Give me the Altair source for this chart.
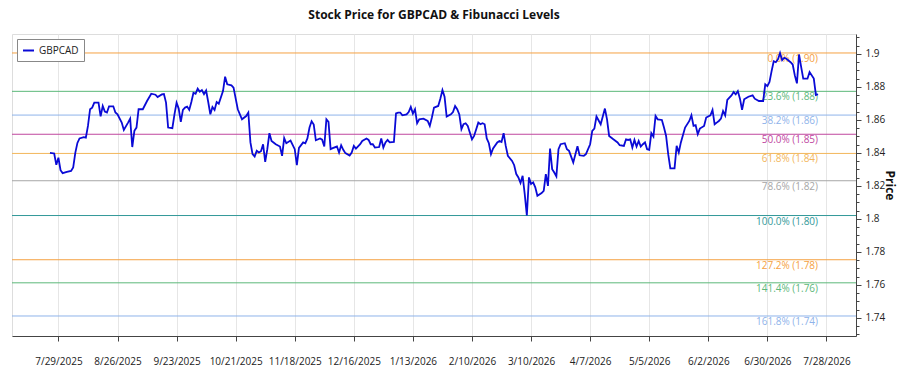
import altair as alt
import pandas as pd

FONT = "Open Sans"

dates = [
    "2025-07-25", "2025-07-27", "2025-07-28", "2025-07-29", "2025-07-30", "2025-07-31",
    "2025-08-02", "2025-08-04", "2025-08-05", "2025-08-06", "2025-08-07", "2025-08-08",
    "2025-08-10", "2025-08-11", "2025-08-12", "2025-08-13", "2025-08-14", "2025-08-15",
    "2025-08-17", "2025-08-18", "2025-08-19", "2025-08-20", "2025-08-21", "2025-08-22",
    "2025-08-24", "2025-08-25", "2025-08-26", "2025-08-28", "2025-08-29", "2025-08-31",
    "2025-09-01", "2025-09-02", "2025-09-03", "2025-09-04", "2025-09-05", "2025-09-07",
    "2025-09-09", "2025-09-11", "2025-09-13", "2025-09-14", "2025-09-16", "2025-09-17",
    "2025-09-18", "2025-09-19", "2025-09-21", "2025-09-22", "2025-09-23", "2025-09-24",
    "2025-09-25", "2025-09-26", "2025-09-27", "2025-09-28", "2025-09-29", "2025-09-30",
    "2025-10-01", "2025-10-02", "2025-10-03", "2025-10-04", "2025-10-05", "2025-10-06",
    "2025-10-07", "2025-10-08", "2025-10-09", "2025-10-10", "2025-10-11", "2025-10-12",
    "2025-10-13", "2025-10-15", "2025-10-16", "2025-10-17", "2025-10-19", "2025-10-20",
    "2025-10-22", "2025-10-24", "2025-10-26", "2025-10-27", "2025-10-28", "2025-10-29",
    "2025-10-30", "2025-10-31", "2025-11-01", "2025-11-02", "2025-11-03", "2025-11-04",
    "2025-11-05", "2025-11-06", "2025-11-07", "2025-11-09", "2025-11-11", "2025-11-12",
    "2025-11-13", "2025-11-14", "2025-11-16", "2025-11-18", "2025-11-19", "2025-11-20",
    "2025-11-22", "2025-11-23", "2025-11-24", "2025-11-25", "2025-11-26", "2025-11-27",
    "2025-11-28", "2025-11-30", "2025-12-01", "2025-12-02", "2025-12-03", "2025-12-04",
    "2025-12-05", "2025-12-06", "2025-12-08", "2025-12-09", "2025-12-10", "2025-12-11",
    "2025-12-12", "2025-12-14", "2025-12-15", "2025-12-16", "2025-12-17", "2025-12-19",
    "2025-12-20", "2025-12-22", "2025-12-23", "2025-12-24", "2025-12-25", "2025-12-26",
    "2025-12-28", "2025-12-29", "2025-12-30", "2025-12-31", "2026-01-01", "2026-01-02",
    "2026-01-04", "2026-01-05", "2026-01-06", "2026-01-07", "2026-01-08", "2026-01-10",
    "2026-01-11", "2026-01-12", "2026-01-13", "2026-01-14", "2026-01-15", "2026-01-16",
    "2026-01-18", "2026-01-20", "2026-01-21", "2026-01-22", "2026-01-23", "2026-01-25",
    "2026-01-26", "2026-01-27", "2026-01-28", "2026-01-29", "2026-01-31", "2026-02-01",
    "2026-02-02", "2026-02-03", "2026-02-04", "2026-02-05", "2026-02-06", "2026-02-07",
    "2026-02-08", "2026-02-10", "2026-02-11", "2026-02-13", "2026-02-14", "2026-02-15",
    "2026-02-16", "2026-02-17", "2026-02-18", "2026-02-19", "2026-02-20", "2026-02-22",
    "2026-02-23", "2026-02-24", "2026-02-25", "2026-02-26", "2026-02-27", "2026-03-01",
    "2026-03-02", "2026-03-03", "2026-03-04", "2026-03-05", "2026-03-06", "2026-03-07",
    "2026-03-08", "2026-03-09", "2026-03-10", "2026-03-11", "2026-03-12", "2026-03-13",
    "2026-03-15", "2026-03-16", "2026-03-17", "2026-03-18", "2026-03-19", "2026-03-20",
    "2026-03-21", "2026-03-22", "2026-03-23", "2026-03-24", "2026-03-26", "2026-03-27",
    "2026-03-28", "2026-03-30", "2026-04-01", "2026-04-02", "2026-04-04", "2026-04-05",
    "2026-04-07", "2026-04-08", "2026-04-09", "2026-04-10", "2026-04-12", "2026-04-14",
    "2026-04-15", "2026-04-16", "2026-04-18", "2026-04-20", "2026-04-21", "2026-04-23",
    "2026-04-24", "2026-04-25", "2026-04-26", "2026-04-27", "2026-04-28", "2026-04-29",
    "2026-04-30", "2026-05-01", "2026-05-02", "2026-05-03", "2026-05-04", "2026-05-05",
    "2026-05-06", "2026-05-07", "2026-05-08", "2026-05-09", "2026-05-11", "2026-05-12",
    "2026-05-13", "2026-05-14", "2026-05-15", "2026-05-17", "2026-05-18", "2026-05-19",
    "2026-05-20", "2026-05-22", "2026-05-24", "2026-05-25", "2026-05-26", "2026-05-27",
    "2026-05-28", "2026-05-29", "2026-05-31", "2026-06-01", "2026-06-03", "2026-06-04",
    "2026-06-05", "2026-06-06", "2026-06-07", "2026-06-08", "2026-06-09", "2026-06-10",
    "2026-06-11", "2026-06-12", "2026-06-13", "2026-06-14", "2026-06-15", "2026-06-16",
    "2026-06-17", "2026-06-18", "2026-06-19", "2026-06-21", "2026-06-23", "2026-06-24",
    "2026-06-26", "2026-06-28", "2026-06-29", "2026-06-30", "2026-07-01", "2026-07-02",
    "2026-07-03", "2026-07-04", "2026-07-05", "2026-07-06", "2026-07-07", "2026-07-08",
    "2026-07-09", "2026-07-11", "2026-07-12", "2026-07-13", "2026-07-14", "2026-07-15",
    "2026-07-16", "2026-07-17", "2026-07-19", "2026-07-20", "2026-07-22", "2026-07-23",
    "2026-07-24",
]

prices = [
    1.8400, 1.8396, 1.8327, 1.8370, 1.8295, 1.8277,
    1.8285, 1.8290, 1.8311, 1.8400, 1.8460, 1.8487,
    1.8495, 1.8492, 1.8563, 1.8664, 1.8674, 1.8704,
    1.8704, 1.8621, 1.8684, 1.8650, 1.8644, 1.8682,
    1.8682, 1.8644, 1.8633, 1.8583, 1.8539, 1.8583,
    1.8607, 1.8435, 1.8533, 1.8553, 1.8664, 1.8664,
    1.8714, 1.8758, 1.8752, 1.8738, 1.8754, 1.8756,
    1.8704, 1.8553, 1.8549, 1.8633, 1.8704, 1.8668,
    1.8587, 1.8660, 1.8674, 1.8680, 1.8660, 1.8708,
    1.8764, 1.8758, 1.8789, 1.8770, 1.8780, 1.8756,
    1.8777, 1.8708, 1.8633, 1.8678, 1.8660, 1.8708,
    1.8698, 1.8774, 1.8861, 1.8815, 1.8809, 1.8795,
    1.8664, 1.8603, 1.8623, 1.8644, 1.8463, 1.8392,
    1.8378, 1.8412, 1.8402, 1.8410, 1.8452, 1.8345,
    1.8422, 1.8519, 1.8472, 1.8452, 1.8438, 1.8382,
    1.8489, 1.8458, 1.8474, 1.8422, 1.8326, 1.8430,
    1.8463, 1.8458, 1.8487, 1.8553, 1.8591, 1.8571,
    1.8476, 1.8487, 1.8480, 1.8438, 1.8603, 1.8587,
    1.8422, 1.8428, 1.8438, 1.8402, 1.8446, 1.8418,
    1.8398, 1.8384, 1.8402, 1.8442, 1.8426, 1.8452,
    1.8472, 1.8487, 1.8478, 1.8452, 1.8452, 1.8432,
    1.8435, 1.8487, 1.8432, 1.8463, 1.8478, 1.8463,
    1.8466, 1.8639, 1.8644, 1.8644, 1.8627, 1.8633,
    1.8647, 1.8678, 1.8638, 1.8664, 1.8579, 1.8603,
    1.8607, 1.8593, 1.8563, 1.8614, 1.8674, 1.8684,
    1.8728, 1.8780, 1.8740, 1.8620, 1.8633, 1.8647,
    1.8684, 1.8664, 1.8633, 1.8543, 1.8573, 1.8579,
    1.8563, 1.8482, 1.8502, 1.8583, 1.8573, 1.8579,
    1.8573, 1.8487, 1.8458, 1.8392, 1.8426, 1.8463,
    1.8472, 1.8466, 1.8519, 1.8442, 1.8382, 1.8351,
    1.8325, 1.8271, 1.8251, 1.8217, 1.8261, 1.8150,
    1.8020, 1.8251, 1.8211, 1.8221, 1.8191, 1.8140,
    1.8156, 1.8170, 1.8271, 1.8200, 1.8426, 1.8301,
    1.8281, 1.8257, 1.8422, 1.8452, 1.8458, 1.8422,
    1.8412, 1.8342, 1.8440, 1.8385, 1.8382, 1.8392,
    1.8452, 1.8533, 1.8547, 1.8620, 1.8573, 1.8668,
    1.8603, 1.8502, 1.8482, 1.8463, 1.8446, 1.8442,
    1.8482, 1.8478, 1.8482, 1.8432, 1.8478, 1.8438,
    1.8472, 1.8438, 1.8452, 1.8463, 1.8422, 1.8418,
    1.8519, 1.8499, 1.8623, 1.8603, 1.8599, 1.8553,
    1.8502, 1.8392, 1.8306, 1.8306, 1.8442, 1.8402,
    1.8463, 1.8553, 1.8593, 1.8627, 1.8563, 1.8567,
    1.8513, 1.8547, 1.8563, 1.8614, 1.8627, 1.8660,
    1.8573, 1.8583, 1.8593, 1.8607, 1.8653, 1.8627,
    1.8720, 1.8734, 1.8748, 1.8768, 1.8754, 1.8774,
    1.8728, 1.8660, 1.8724, 1.8740, 1.8748, 1.8728,
    1.8714, 1.8714, 1.8815, 1.8804, 1.8829, 1.8895,
    1.8955, 1.8949, 1.8966, 1.9005, 1.8961, 1.8976,
    1.8970, 1.8949, 1.8935, 1.8869, 1.8821, 1.8996,
    1.8921, 1.8849, 1.8849, 1.8889, 1.8850, 1.8750,
    1.8755,
]

fib_ratios = [0.0, 0.236, 0.382, 0.5, 0.618, 0.786, 1.0, 1.272, 1.414, 1.618]
fib_colors = ["#f5a142", "#5cb87a", "#8fb3ea", "#c0479f", "#f2b65a",
              "#a6a6a6", "#339999", "#f5a142", "#5cb87a", "#8fb3ea"]

x_ticks = ["2025-07-29", "2025-08-26", "2025-09-23", "2025-10-21", "2025-11-18",
           "2025-12-16", "2026-01-13", "2026-02-10", "2026-03-10", "2026-04-07",
           "2026-05-05", "2026-06-02", "2026-06-30", "2026-07-28"]
x_domain = ["2025-07-07", "2026-08-11"]
y_domain = [1.729, 1.912]
y_ticks = [round(1.730 + 0.005 * i, 3) for i in range(37)]

series_name = "GBPCAD"
line_color = "#0a0ad6"

PLOT_W, PLOT_H = 844, 302


def dt(s):
    y, m, d = (int(p) for p in s.split("-"))
    return alt.DateTime(year=y, month=m, date=d, hours=0, utc=True)


df = pd.DataFrame({"date": dates, "price": prices, "series": series_name})
hi, lo = max(prices), min(prices)
fib = pd.DataFrame({"ratio": fib_ratios, "color": fib_colors})
fib["level"] = [hi - r * (hi - lo) for r in fib_ratios]
fib["label"] = [f"{r * 100:.1f}% ({v:.2f})" for r, v in zip(fib["ratio"], fib["level"])]
fib["date"] = dates[-1]

x_scale = alt.Scale(type="utc", domain=[dt(s) for s in x_domain])
y_scale = alt.Scale(domain=y_domain, zero=False, nice=False)

major_test = "abs(datum.value * 50 - round(datum.value * 50)) < 0.01"

x_axis = alt.Axis(
    title=None, values=[dt(s) for s in x_ticks], format="%-m/%-d/%Y",
    grid=True, gridColor="#e6e6e6", gridWidth=1,
    tickSize=5, tickColor="#444", domainColor="#444",
    labelPadding=15, labelFontSize=10, labelColor="#222", labelFont=FONT,
)
y_axis = alt.Axis(
    orient="right", title="Price", titleAngle=90, titleFontWeight="bold",
    titleFontSize=12, titleFont=FONT, titleColor="#111",
    titleX=33, titleY=PLOT_H / 2, titleAlign="center", titleBaseline="middle",
    values=y_ticks, grid=False,
    labelExpr=f"({major_test}) ? format(datum.value, '~g') : ''",
    tickSize={"condition": {"test": major_test, "value": 5}, "value": 3},
    tickColor="#444", domainColor="#444",
    labelPadding=4, labelFontSize=10, labelColor="#222", labelFont=FONT,
)

rules = alt.Chart(fib).mark_rule(strokeWidth=1).encode(
    y=alt.Y("level:Q", scale=y_scale, axis=y_axis),
    stroke=alt.Stroke("color:N", scale=None),
)

labels = alt.Chart(fib).mark_text(
    align="right", baseline="top", dy=1, fontSize=10, font=FONT
).encode(
    x=alt.X("date:T", scale=x_scale, axis=x_axis),
    y=alt.Y("level:Q", scale=y_scale, axis=y_axis),
    text="label:N",
    fill=alt.Fill("color:N", scale=None),
)

line = alt.Chart(df).mark_line(strokeWidth=1.8).encode(
    x=alt.X("date:T", scale=x_scale, axis=x_axis),
    y=alt.Y("price:Q", scale=y_scale, axis=y_axis),
    color=alt.Color(
        "series:N",
        scale=alt.Scale(domain=[series_name], range=[line_color]),
        legend=alt.Legend(
            title=None, orient="top-left", offset=5, padding=5,
            fillColor="white", strokeColor="#888",
            symbolType="stroke", symbolStrokeWidth=2, symbolSize=120,
            labelFontSize=10, labelFont=FONT, labelColor="#222",
        ),
    ),
)

chart = alt.layer(rules, labels, line).properties(
    width=PLOT_W, height=PLOT_H,
    autosize=alt.AutoSizeParams(type="none"),
    padding={"left": 12, "top": 34, "right": 44, "bottom": 39},
    title=alt.TitleParams(
        "Stock Price for GBPCAD & Fibunacci Levels",
        fontSize=12, fontWeight="bold", font=FONT, color="#111",
        anchor="middle", offset=12,
    ),
).configure_view(stroke="#444", strokeWidth=1).configure(background="white")

chart.save("out.html", embed_options={"renderer": "svg", "actions": False})
